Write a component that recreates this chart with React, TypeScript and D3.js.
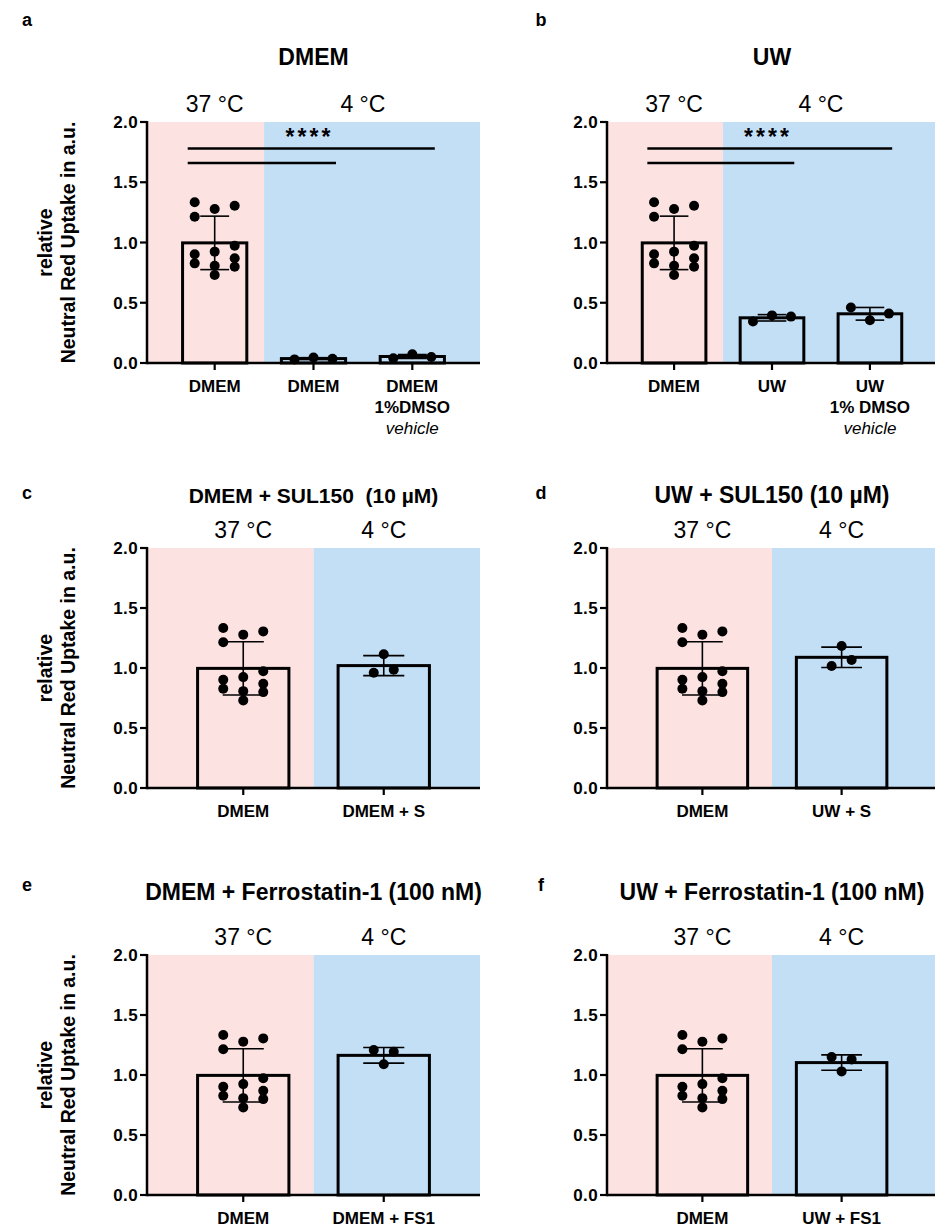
import React from 'react'
import * as d3 from 'd3'

const FONT = '"Liberation Sans", Arial, Helvetica, sans-serif'
const PINK = '#fde2e2'
const BLUE = '#c3dff6'

const yTicks = [0, 0.5, 1.0, 1.5, 2.0]

// 37 °C control wells (same 12 in every panel)
const dmem37 = [1.334, 1.278, 1.305, 1.214, 0.924, 0.973, 0.902, 0.807, 0.869, 0.827, 0.730, 0.799]

// 4 °C groups
const dmem4 = [0.03, 0.045, 0.035]
const dmemDmso4 = [0.04, 0.072, 0.05]
const uw4 = [0.345, 0.395, 0.385]
const uwDmso4 = [0.46, 0.355, 0.41]
const dmemSul4 = [0.96, 1.115, 0.985]
const uwSul4 = [1.017, 1.183, 1.067]
const dmemFs4 = [1.208, 1.089, 1.194]
const uwFs4 = [1.15, 1.03, 1.13]

const tempsThree = ['37 °C', '4 °C', '4 °C']
const tempsTwo = ['37 °C', '4 °C']

const labelsA = [['DMEM'], ['DMEM'], ['DMEM', '1%DMSO', 'vehicle']]
const labelsB = [['DMEM'], ['UW'], ['UW', '1% DMSO', 'vehicle']]
const labelsC = [['DMEM'], ['DMEM + S']]
const labelsD = [['DMEM'], ['UW + S']]
const labelsE = [['DMEM'], ['DMEM + FS1']]
const labelsF = [['DMEM'], ['UW + FS1']]

// significance brackets: [from group, to group, height]
const sigPairs = [[0, 1, 1.66], [0, 2, 1.78]]
const sigText = '****'
const sigLevel = 1.91

const rows = [
  {top: 122, bottom: 363, titleY: 65, letterY: 26, spread3: 19},
  {top: 548, bottom: 788, titleY: 503, letterY: 499, spread3: 10},
  {top: 955, bottom: 1195, titleY: 900, letterY: 891, spread3: 10},
]
const cols = [
  {x0: 147, x1: 480, letterX: 27, yLabel: true},
  {x0: 607, x1: 937, letterX: 541, yLabel: false},
]

const panels = [
  {row: 0, col: 0, letter: 'a', title: 'DMEM', titleSize: 23, series: [dmem37, dmem4, dmemDmso4], temps: tempsThree, labels: labelsA, sig: true},
  {row: 0, col: 1, letter: 'b', title: 'UW', titleSize: 23, series: [dmem37, uw4, uwDmso4], temps: tempsThree, labels: labelsB, sig: true},
  {row: 1, col: 0, letter: 'c', title: 'DMEM + SUL150  (10 µM)', titleSize: 21, series: [dmem37, dmemSul4], temps: tempsTwo, labels: labelsC, sig: false},
  {row: 1, col: 1, letter: 'd', title: 'UW + SUL150 (10 µM)', titleSize: 23, series: [dmem37, uwSul4], temps: tempsTwo, labels: labelsD, sig: false},
  {row: 2, col: 0, letter: 'e', title: 'DMEM + Ferrostatin-1 (100 nM)', titleSize: 23, series: [dmem37, dmemFs4], temps: tempsTwo, labels: labelsE, sig: false},
  {row: 2, col: 1, letter: 'f', title: 'UW + Ferrostatin-1 (100 nM)', titleSize: 23, series: [dmem37, uwFs4], temps: tempsTwo, labels: labelsF, sig: false},
]

function Panel({p}: any) {
  const r = rows[p.row]
  const c = cols[p.col]
  const ids = p.series.map((_: any, i: number) => String(i))
  const y = d3.scaleLinear().domain([0, 2]).range([r.bottom, r.top])
  const x = d3.scaleBand().domain(ids).range([c.x0, c.x1]).paddingInner(0.35).paddingOuter(0.36)
  const bw = x.bandwidth()
  const cx = (i: number) => (x(String(i)) as number) + bw / 2

  const split = p.temps.findIndex((t: string) => t !== p.temps[0])
  const boundary = (cx(split - 1) + cx(split)) / 2

  const groups = Array.from(new Set(p.temps)) as string[]
  const headerX = (t: string) => d3.mean(p.temps.map((tt: string, i: number) => (tt === t ? cx(i) : null)).filter((v: any) => v !== null)) as number

  const midY = (r.top + r.bottom) / 2

  return (
    <g>
      <text x={c.letterX} y={r.letterY} fontSize={18} fontWeight="bold" textAnchor="middle">{p.letter}</text>
      <text x={(c.x0 + c.x1) / 2} y={r.titleY} fontSize={p.titleSize} fontWeight="bold" textAnchor="middle"
        style={{whiteSpace: 'pre'}}>{p.title}</text>

      <rect x={c.x0} y={r.top} width={boundary - c.x0} height={r.bottom - r.top} fill={PINK} />
      <rect x={boundary} y={r.top} width={c.x1 - boundary} height={r.bottom - r.top} fill={BLUE} />

      {groups.map(t => (
        <text key={t} x={headerX(t)} y={r.top - 10} fontSize={23} textAnchor="middle">{t}</text>
      ))}

      {p.series.map((vals: number[], i: number) => {
        const m = d3.mean(vals) as number
        const sd = d3.deviation(vals) as number
        const spread = vals.length > 3 ? 20 : r.spread3
        const cap = bw * 0.45
        return (
          <g key={i}>
            <rect x={x(String(i))} y={y(m)} width={bw} height={y(0) - y(m)} fill="none" stroke="#000" strokeWidth={3} />
            <line x1={cx(i)} x2={cx(i)} y1={y(m - sd)} y2={y(m + sd)} stroke="#000" strokeWidth={1.6} />
            <line x1={cx(i) - cap / 2} x2={cx(i) + cap / 2} y1={y(m + sd)} y2={y(m + sd)} stroke="#000" strokeWidth={1.6} />
            <line x1={cx(i) - cap / 2} x2={cx(i) + cap / 2} y1={y(m - sd)} y2={y(m - sd)} stroke="#000" strokeWidth={1.6} />
            {vals.map((v, j) => (
              <circle key={j} cx={cx(i) + [-1, 0, 1][j % 3] * spread} cy={y(v)} r={5} fill="#000" />
            ))}
          </g>
        )
      })}

      {/* y axis */}
      <line x1={c.x0} x2={c.x0} y1={y(2) - 1} y2={y(0) + 1.2} stroke="#000" strokeWidth={2.5} />
      {yTicks.map(t => (
        <g key={t}>
          <line x1={c.x0 - 7} x2={c.x0} y1={y(t)} y2={y(t)} stroke="#000" strokeWidth={2.2} />
          <text x={c.x0 - 9} y={y(t) + 6} fontSize={17} fontWeight="bold" textAnchor="end" letterSpacing={0.4}>{t.toFixed(1)}</text>
        </g>
      ))}

      {/* x axis */}
      <line x1={c.x0} x2={c.x1} y1={y(0)} y2={y(0)} stroke="#000" strokeWidth={2.5} />
      {p.labels.map((lines: string[], i: number) => (
        <g key={i}>
          <line x1={cx(i)} x2={cx(i)} y1={y(0)} y2={y(0) + 7} stroke="#000" strokeWidth={2.2} />
          {lines.map((s, k) => (
            <text key={k} x={cx(i)} y={y(0) + 29 + k * 21} fontSize={17}
              fontWeight={s === 'vehicle' ? 'normal' : 'bold'} fontStyle={s === 'vehicle' ? 'italic' : 'normal'}
              textAnchor="middle">{s}</text>
          ))}
        </g>
      ))}

      {p.sig && (
        <g>
          {sigPairs.map(([a, b, h], k) => (
            <line key={k} x1={(x(String(a)) as number) + bw * 0.08} x2={(x(String(b)) as number) + bw * 0.85}
              y1={y(h)} y2={y(h)} stroke="#000" strokeWidth={2.6} />
          ))}
          <text x={cx(1) - 4} y={y(sigLevel) + 12} fontSize={23} fontWeight="bold" textAnchor="middle" letterSpacing={3}>{sigText}</text>
        </g>
      )}

      {c.yLabel && (
        <g fontSize={19.5} fontWeight="bold">
          <text transform={`translate(52,${midY}) rotate(-90)`} textAnchor="middle">relative</text>
          <text transform={`translate(75,${midY}) rotate(-90)`} textAnchor="middle">Neutral Red Uptake in a.u.</text>
        </g>
      )}
    </g>
  )
}

export default function App() {
  return (
    <svg width={935} height={1227} viewBox="0 0 935 1227"
      style={{position: 'absolute', left: 0, top: 0, background: '#fff'}}
      fontFamily={FONT} fill="#000">
      <rect x={0} y={0} width={935} height={1227} fill="#fff" />
      {panels.map(p => <Panel key={p.letter} p={p} />)}
    </svg>
  )
}
